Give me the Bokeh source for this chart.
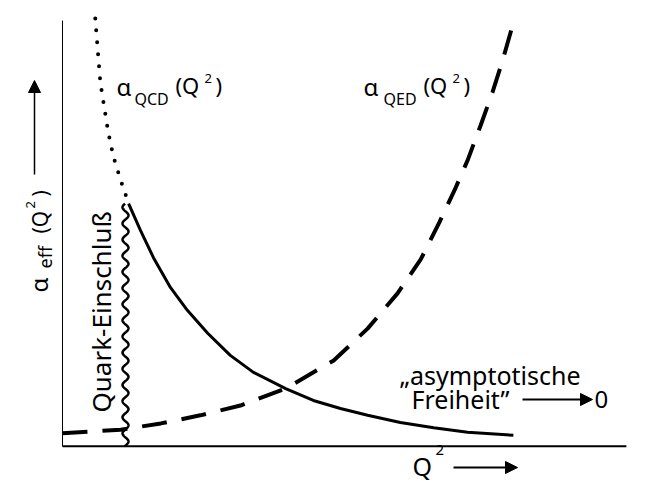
import numpy as np
from bokeh.plotting import figure
from bokeh.models import Range1d, Arrow, NormalHead, ColumnDataSource
from bokeh.core.properties import value
from bokeh.embed import file_html
from bokeh.resources import INLINE

# ---- data (arbitrary units: Q^2 on x, alpha_eff on y) ----
qcd_q2 = [1.17, 1.38, 1.61, 1.91, 2.21, 2.57, 2.97, 3.38, 3.95, 4.44, 4.92, 5.40, 5.98, 6.57, 7.17, 7.98]
qcd_alpha = [5.69, 5.06, 4.42, 3.72, 3.18, 2.64, 2.12, 1.72, 1.34, 1.06, 0.87, 0.71, 0.54, 0.42, 0.31, 0.24]

qcd_dot_q2 = [0.58, 0.62, 0.67, 0.74, 0.81, 0.90, 1.03, 1.17]
qcd_dot_alpha = [10.05, 9.37, 8.54, 7.95, 7.37, 6.80, 6.24, 5.69]

qed_q2 = [0.00, 1.03, 1.74, 2.44, 3.15, 3.95, 4.80, 5.40, 5.93, 6.34, 6.67, 6.96, 7.17, 7.40, 7.61, 7.79, 7.98]
qed_alpha = [0.29, 0.37, 0.52, 0.71, 0.94, 1.34, 2.00, 2.75, 3.58, 4.38, 5.25, 6.07, 6.71, 7.53, 8.31, 9.06, 9.95]

confinement_q2 = 1.115
confinement_top = 5.69

# axis extents (data units)
x_axis_end = 9.98
y_axis_end = 10.0
axis_zero = -0.02

FONT = "Noto Sans"
W, H = 642, 484
BASE_SHIFT = 0.37  # svg text anchor correction (fraction of font size)

# pixel -> data helpers (pixel coordinates of the picture)
def X(px):
    return (px - 62) / 56.5

def Y(py):
    return (445 - py) / 42.5

p = figure(width=W, height=H, x_range=Range1d(X(0), X(W)), y_range=Range1d(Y(H), Y(0)),
           output_backend="svg", toolbar_location=None,
           x_axis_location=None, y_axis_location=None,
           min_border=0, min_border_left=0, min_border_right=0, min_border_top=0, min_border_bottom=0)
p.grid.visible = False
p.outline_line_color = None
p.background_fill_color = "white"
p.border_fill_color = "white"

# axes
p.segment(x0=[0, 0], y0=[axis_zero, axis_zero], x1=[x_axis_end, 0], y1=[axis_zero, y_axis_end],
          line_color="black", line_width=[2, 1])

# curves
p.line(qcd_dot_q2, qcd_dot_alpha, line_color="black", line_width=4, line_dash="0 12", line_cap="round")
p.line(qcd_q2, qcd_alpha, line_color="black", line_width=3)
p.line(qed_q2, qed_alpha, line_color="black", line_width=4, line_dash="25 15")

# wavy confinement boundary (decorative wiggle along a vertical line)
wy = np.linspace(axis_zero, confinement_top, 800)
period = 0.38
amp = 0.053
wx = confinement_q2 + amp * np.sin(2 * np.pi * wy / period)
p.line(wx, wy, line_color="black", line_width=2.5)

def lab(txt, px, py, size, rotated=False):
    # (px, py) = start of the text baseline, in picture pixels
    if rotated:
        px = px - BASE_SHIFT * size
        angle = np.pi / 2
    else:
        py = py - BASE_SHIFT * size
        angle = 0.0
    src = ColumnDataSource(dict(x=[X(px)], y=[Y(py)], t=[txt]))
    p.text(x="x", y="y", text="t", source=src, text_font=value(FONT), text_font_size=f"{size}px",
           angle=angle, text_align="left", text_baseline="alphabetic", text_color="black")

# alpha_QCD(Q^2)
lab("α", 116, 95, 24)
lab("QCD", 134, 104, 16)
lab("(Q", 175, 93, 22)
lab("2", 204, 83, 13)
lab(")", 215, 93, 22)

# alpha_QED(Q^2)
lab("α", 363, 95, 24)
lab("QED", 383, 104, 16)
lab("(Q", 423, 93, 22)
lab("2", 452, 83, 13)
lab(")", 463, 93, 22)

# asymptotische Freiheit
lab("„asymptotische", 399, 384, 25)
lab("Freiheit\u201d", 411, 408, 25)
lab("0", 594, 408, 24)
p.add_layout(Arrow(x_start=X(522), y_start=Y(399), x_end=X(592), y_end=Y(399), line_width=2,
                   end=NormalHead(size=12, fill_color="black", line_color="black")))

# Quark-Einschluss (rotated)
lab("Quark-Einschluß", 110, 412, 26, rotated=True)

# x label
lab("Q", 412, 475, 25)
lab("2", 435, 455, 15)
p.add_layout(Arrow(x_start=X(453), y_start=Y(467), x_end=X(517), y_end=Y(467), line_width=2,
                   end=NormalHead(size=12, fill_color="black", line_color="black")))

# y label (rotated)
lab("α", 47, 292, 24, rotated=True)
lab("eff", 51, 268, 18, rotated=True)
lab("(Q", 47, 233, 21, rotated=True)
lab("2", 35, 208, 13, rotated=True)
lab(")", 47, 196, 21, rotated=True)
p.add_layout(Arrow(x_start=X(34), y_start=Y(174), x_end=X(34), y_end=Y(80), line_width=1.5,
                   end=NormalHead(size=12, fill_color="black", line_color="black")))

open("out.html", "w").write(file_html(p, INLINE))
